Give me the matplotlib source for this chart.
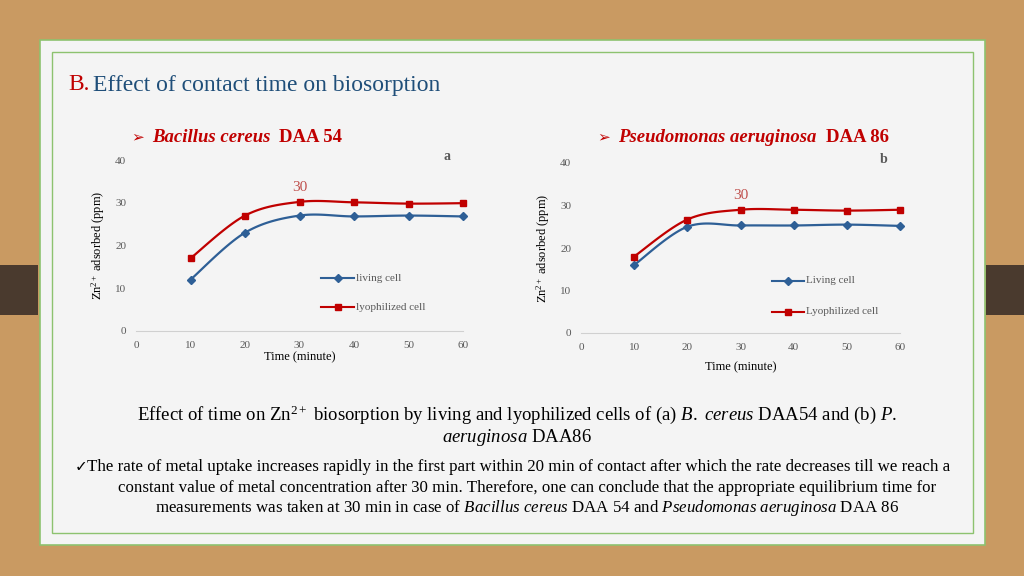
import numpy as np
import matplotlib
matplotlib.use("Agg")
import matplotlib.pyplot as plt
from matplotlib.patches import Rectangle

time = [10, 20, 30, 40, 50, 60]
a_living = [12, 23, 27, 26.8, 27, 26.8]
a_lyo = [17, 27, 30.2, 30.1, 29.8, 29.9]
b_living = [16, 25, 25.3, 25.3, 25.5, 25.2]
b_lyo = [18, 26.7, 29, 29, 28.8, 29]
yticks = [0, 10, 20, 30, 40]
xticks = [0, 10, 20, 30, 40, 50, 60]

plt.rcParams['font.family'] = 'Liberation Serif'
plt.rcParams['mathtext.fontset'] = 'custom'
plt.rcParams['mathtext.rm'] = 'Liberation Serif'
plt.rcParams['mathtext.it'] = 'Liberation Serif:italic'
plt.rcParams['mathtext.bf'] = 'Liberation Serif:bold'

def smooth(x, y, n=20):
    x = np.asarray(x, float); y = np.asarray(y, float)
    P = np.column_stack([x, y])
    P = np.vstack([P[0], P, P[-1]])
    out = []
    for i in range(1, len(P) - 2):
        p0, p1, p2, p3 = P[i-1], P[i], P[i+1], P[i+2]
        for t in np.linspace(0, 1, n, endpoint=False):
            t2, t3 = t*t, t*t*t
            out.append(0.5*((2*p1) + (-p0+p2)*t + (2*p0-5*p1+4*p2-p3)*t2 + (-p0+3*p1-3*p2+p3)*t3))
    out.append(P[-2])
    out = np.array(out)
    return out[:, 0], out[:, 1]

fig = plt.figure(figsize=(10.24, 5.76), dpi=100)
fig.patch.set_facecolor('#c99a62')
for r in [Rectangle((40/1024, 1-545/576), 945/1024, 505/576, facecolor='#f4f4f4', edgecolor='#8dc26f', lw=1.2),
          Rectangle((52/1024, 1-533/576), 921/1024, 481/576, facecolor='none', edgecolor='#8dc26f', lw=1.0),
          Rectangle((0, 1-315/576), 38/1024, 50/576, facecolor='#4a3a2e', edgecolor='none'),
          Rectangle((986/1024, 1-315/576), 38/1024, 50/576, facecolor='#4a3a2e', edgecolor='none')]:
    r.set_transform(fig.transFigure); r.set_zorder(-5)
    fig.add_artist(r)

fig.text(68/1024, 1-85/576, 'B.', color='#c00000', fontsize=17, va='center')
fig.text(93/1024, 1-85/576, 'Effect of contact time on biosorption', color='#1f4e79', fontsize=17, va='center')

blue = '#2e5f96'; red = '#c00000'

def panel(rect, liv, lyo, letter, lab1, lab2, y30, leg_pos, xlp):
    ax = fig.add_axes(rect)
    ax.set_facecolor('none')
    for x, y, c, m in [(time, liv, blue, 'D'), (time, lyo, red, 's')]:
        sx, sy = smooth(x, y)
        ax.plot(sx, sy, color=c, lw=1.6, clip_on=False)
        ax.plot(x, y, m, color=c, ms=4.5, ls='none', clip_on=False)
    ax.set_xlim(0, 60); ax.set_ylim(0, 40)
    ax.set_xticks(xticks); ax.set_yticks(yticks)
    for s in ['top', 'right', 'left']:
        ax.spines[s].set_visible(False)
    ax.spines['bottom'].set_color('#d0d0d0')
    ax.tick_params(length=0, labelsize=8, colors='#595959', pad=7)
    ax.set_xlabel('Time (minute)', fontsize=9, labelpad=xlp)
    ax.set_ylabel('Zn$^{2+}$ adsorbed (ppm)', fontsize=9, labelpad=6)
    ax.text(30, y30, '30', color='#c0504d', fontsize=11, ha='center')
    ax.text(0.95, 1.0, letter, transform=ax.transAxes, fontsize=10, fontweight='bold', color='#595959', ha='center')
    lx, ly1, ly2 = leg_pos
    ax.plot([lx - 6, lx], [ly1, ly1], color=blue, lw=1.5); ax.plot(lx - 3, ly1, 'D', color=blue, ms=4)
    ax.text(lx + 0.3, ly1, lab1, fontsize=8, color='#595959', va='center')
    ax.plot([lx - 6, lx], [ly2, ly2], color=red, lw=1.5); ax.plot(lx - 3, ly2, 's', color=red, ms=4)
    ax.text(lx + 0.3, ly2, lab2, fontsize=8, color='#595959', va='center')
    return ax

panel([136/1024, 1-331/576, 327/1024, 171/576], a_living, a_lyo, 'a', 'living cell', 'lyophilized cell',
      32.8, (40, 12.3, 5.5), 1)
panel([581/1024, 1-333/576, 319/1024, 170/576], b_living, b_lyo, 'b', 'Living cell', 'Lyophilized cell',
      31.5, (42, 12.3, 5), 7)

fig.text(131/1024, 1-137/576, '➢', fontsize=11, color='#c00000', va='center', family='DejaVu Sans')
fig.text(152/1024, 1-137/576, 'Bacillus cereus', fontsize=13.5, color='#c00000', va='center', fontweight='bold', style='italic')
fig.text(279/1024, 1-137/576, 'DAA 54', fontsize=13.5, color='#c00000', va='center', fontweight='bold')
fig.text(597/1024, 1-137/576, '➢', fontsize=11, color='#c00000', va='center', family='DejaVu Sans')
fig.text(618/1024, 1-137/576, 'Pseudomonas aeruginosa', fontsize=13.5, color='#c00000', va='center', fontweight='bold', style='italic')
fig.text(826/1024, 1-137/576, 'DAA 86', fontsize=13.5, color='#c00000', va='center', fontweight='bold')

fig.text(0.505, 1-415/576, r'Effect of time on Zn$^{2+}$ biosorption by living and lyophilized cells of (a) $\it{B.\ cereus}$ DAA54 and (b) $\it{P.}$',
         fontsize=13.5, ha='center', va='center')
fig.text(0.505, 1-438/576, r'$\it{aeruginosa}$ DAA86', fontsize=13.5, ha='center', va='center')
fig.text(75/1024, 1-467/576, '✓', fontsize=11, va='center', family='DejaVu Sans')
fig.text(87/1024, 1-467/576, 'The rate of metal uptake increases rapidly in the first part within 20 min of contact after which the rate decreases till we reach a',
         fontsize=12.2, ha='left', va='center')
fig.text(0.515, 1-488/576, 'constant value of metal concentration after 30 min. Therefore, one can conclude that the appropriate equilibrium time for',
         fontsize=12.2, ha='center', va='center')
fig.text(0.515, 1-508/576, r'measurements was taken at 30 min in case of $\it{Bacillus\ cereus}$ DAA 54 and $\it{Pseudomonas\ aeruginosa}$ DAA 86',
         fontsize=12.2, ha='center', va='center')

fig.savefig('out.png', dpi=100, facecolor=fig.get_facecolor())
